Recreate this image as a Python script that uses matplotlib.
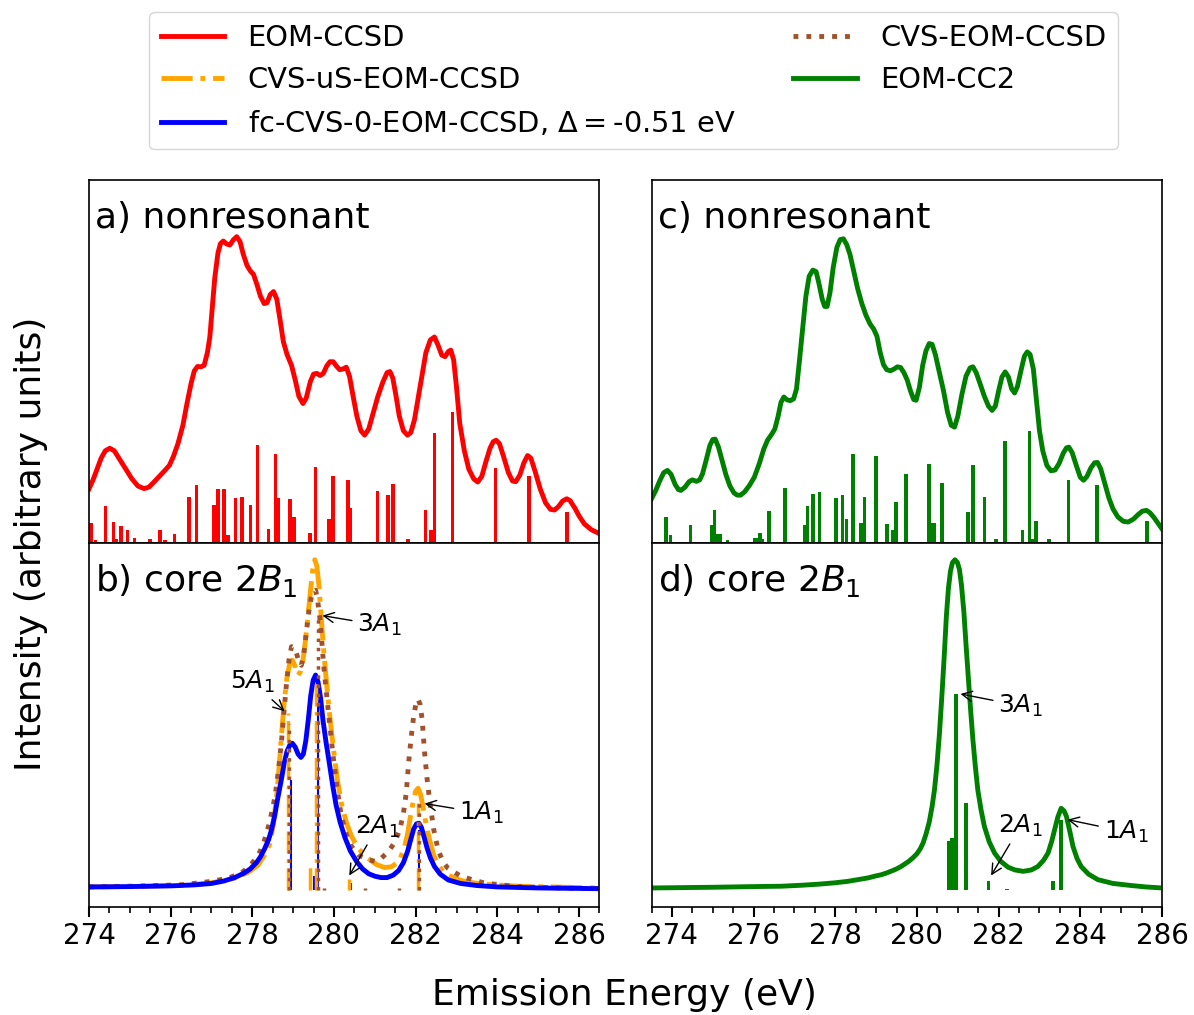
import numpy as np
import matplotlib
matplotlib.use("Agg")
import matplotlib.pyplot as plt
from matplotlib.ticker import MultipleLocator

# ---- a) nonresonant, EOM-CCSD: broadened spectrum and sticks ----
a_curve_E = [274.0, 274.1, 274.2, 274.3, 274.4, 274.51, 274.62, 274.75, 274.9, 275.05,
             275.2, 275.35, 275.47, 275.6, 275.75, 275.86, 275.97, 276.07, 276.18, 276.3,
             276.4, 276.5, 276.58, 276.66, 276.74, 276.82, 276.9, 276.96, 277.02, 277.08,
             277.16, 277.22, 277.29, 277.37, 277.45, 277.54, 277.62, 277.7, 277.78, 277.87,
             277.95, 278.03, 278.12, 278.2, 278.29, 278.36, 278.44, 278.52, 278.6, 278.68,
             278.76, 278.85, 278.96, 279.05, 279.14, 279.24, 279.32, 279.42, 279.5, 279.58,
             279.66, 279.74, 279.82, 279.9, 279.98, 280.06, 280.14, 280.22, 280.3, 280.38,
             280.46, 280.56, 280.66, 280.75, 280.85, 280.95, 281.07, 281.2, 281.3, 281.37,
             281.44, 281.52, 281.6, 281.7, 281.8, 281.88, 281.97, 282.06, 282.15, 282.25,
             282.36, 282.46, 282.55, 282.64, 282.72, 282.8, 282.86, 282.93, 283.0, 283.08,
             283.19, 283.3, 283.42, 283.52, 283.62, 283.72, 283.82, 283.9, 283.97, 284.05,
             284.15, 284.27, 284.37, 284.45, 284.55, 284.65, 284.74, 284.82, 284.92, 285.05,
             285.18, 285.3, 285.4, 285.5, 285.6, 285.7, 285.78, 285.9, 286.0, 286.13,
             286.3, 286.5]
a_curve_I = [0.150, 0.175, 0.205, 0.235, 0.255, 0.262, 0.255, 0.232, 0.205, 0.178,
             0.158, 0.151, 0.155, 0.170, 0.188, 0.201, 0.215, 0.240, 0.275, 0.325,
             0.385, 0.440, 0.475, 0.487, 0.486, 0.490, 0.525, 0.568, 0.650, 0.730,
             0.800, 0.825, 0.832, 0.824, 0.821, 0.836, 0.844, 0.830, 0.795, 0.765,
             0.750, 0.740, 0.710, 0.680, 0.660, 0.662, 0.685, 0.693, 0.672, 0.615,
             0.555, 0.520, 0.490, 0.450, 0.405, 0.385, 0.400, 0.445, 0.466, 0.468,
             0.462, 0.468, 0.488, 0.500, 0.500, 0.488, 0.478, 0.480, 0.485, 0.460,
             0.410, 0.350, 0.310, 0.298, 0.315, 0.355, 0.403, 0.445, 0.470, 0.473,
             0.455, 0.405, 0.350, 0.310, 0.298, 0.305, 0.340, 0.400, 0.460, 0.525,
             0.560, 0.568, 0.545, 0.518, 0.514, 0.528, 0.532, 0.505, 0.430, 0.330,
             0.256, 0.205, 0.178, 0.169, 0.185, 0.225, 0.262, 0.280, 0.284, 0.275,
             0.240, 0.195, 0.172, 0.170, 0.188, 0.222, 0.242, 0.235, 0.200, 0.150,
             0.112, 0.094, 0.092, 0.102, 0.117, 0.123, 0.118, 0.097, 0.076, 0.054,
             0.038, 0.027]
a_stick_E = [274.05, 274.16, 274.41, 274.6, 274.68, 274.78, 274.95, 275.11, 275.49, 275.55,
             275.74, 275.86, 276.1, 276.45, 276.63, 277.06, 277.16, 277.31, 277.41, 277.59,
             277.75, 277.95, 278.13, 278.39, 278.57, 278.63, 278.92, 279.02, 279.41, 279.55,
             279.88, 279.98, 280.34, 280.4, 280.65, 281.06, 281.32, 281.44, 281.81, 282.24,
             282.38, 282.46, 282.9, 283.96, 284.4, 284.77, 285.71]
a_stick_I = [0.055, 0.010, 0.104, 0.059, 0.012, 0.049, 0.036, 0.016, 0.012, 0.004,
             0.036, 0.010, 0.026, 0.128, 0.162, 0.105, 0.151, 0.151, 0.022, 0.125,
             0.127, 0.107, 0.270, 0.040, 0.247, 0.125, 0.121, 0.072, 0.029, 0.210,
             0.066, 0.187, 0.174, 0.098, 0.005, 0.144, 0.132, 0.164, 0.012, 0.091,
             0.036, 0.305, 0.361, 0.208, 0.005, 0.187, 0.086]

# ---- b) core 2B1: three CVS variants ----
b_fc_E = [274.0, 275.0, 276.0, 276.6, 277.0, 277.3, 277.57, 277.8, 277.95, 278.1,
          278.2, 278.3, 278.4, 278.47, 278.55, 278.62, 278.71, 278.78, 278.85, 278.92,
          278.98, 279.05, 279.12, 279.19, 279.25, 279.31, 279.37, 279.43, 279.49, 279.55,
          279.61, 279.67, 279.73, 279.8, 279.88, 279.97, 280.05, 280.15, 280.27, 280.4,
          280.55, 280.7, 280.85, 281.0, 281.15, 281.3, 281.45, 281.58, 281.7, 281.8,
          281.88, 281.95, 282.02, 282.08, 282.14, 282.2, 282.28, 282.36, 282.46, 282.6,
          282.8, 283.1, 283.5, 284.0, 285.0, 286.5]
b_fc_I = [0.008, 0.009, 0.011, 0.014, 0.018, 0.025, 0.035, 0.048, 0.060, 0.078,
          0.095, 0.118, 0.145, 0.173, 0.215, 0.262, 0.317, 0.365, 0.400, 0.418,
          0.423, 0.412, 0.392, 0.382, 0.392, 0.430, 0.490, 0.560, 0.605, 0.620,
          0.600, 0.555, 0.490, 0.430, 0.370, 0.300, 0.245, 0.195, 0.150, 0.112,
          0.082, 0.060, 0.046, 0.039, 0.035, 0.035, 0.042, 0.055, 0.078, 0.110,
          0.145, 0.175, 0.190, 0.192, 0.180, 0.155, 0.120, 0.092, 0.067, 0.045,
          0.028, 0.018, 0.012, 0.008, 0.005, 0.003]
b_us_E = [274.0, 275.0, 276.0, 276.6, 277.0, 277.57, 277.9, 278.14, 278.3, 278.42,
          278.52, 278.62, 278.71, 278.78, 278.85, 278.92, 278.98, 279.05, 279.12, 279.18,
          279.25, 279.31, 279.37, 279.43, 279.48, 279.53, 279.58, 279.63, 279.68, 279.74,
          279.8, 279.88, 279.98, 280.08, 280.18, 280.3, 280.43, 280.6, 280.83, 281.05,
          281.24, 281.4, 281.52, 281.62, 281.72, 281.8, 281.87, 281.94, 282.0, 282.06,
          282.12, 282.18, 282.26, 282.34, 282.44, 282.55, 282.7, 282.87, 283.1, 283.4,
          283.7, 284.5, 286.5]
b_us_I = [0.008, 0.009, 0.012, 0.016, 0.020, 0.033, 0.050, 0.071, 0.100, 0.130,
          0.190, 0.300, 0.440, 0.540, 0.615, 0.655, 0.663, 0.645, 0.620, 0.630,
          0.670, 0.730, 0.800, 0.870, 0.925, 0.953, 0.935, 0.880, 0.800, 0.700,
          0.620, 0.520, 0.413, 0.320, 0.250, 0.195, 0.154, 0.118, 0.091, 0.072,
          0.064, 0.066, 0.075, 0.090, 0.120, 0.160, 0.210, 0.255, 0.285, 0.293,
          0.275, 0.240, 0.185, 0.144, 0.100, 0.071, 0.050, 0.038, 0.027, 0.020,
          0.016, 0.010, 0.005]
b_cvs_E = [274.0, 275.0, 276.27, 277.0, 277.4, 277.73, 277.95, 278.1, 278.2, 278.3,
           278.4, 278.51, 278.58, 278.65, 278.72, 278.78, 278.84, 278.9, 278.96, 279.02,
           279.08, 279.14, 279.2, 279.26, 279.32, 279.38, 279.44, 279.5, 279.55, 279.6,
           279.65, 279.7, 279.75, 279.8, 279.85, 279.92, 279.98, 280.08, 280.18, 280.3,
           280.43, 280.6, 280.83, 281.0, 281.15, 281.33, 281.48, 281.61, 281.7, 281.77,
           281.83, 281.89, 281.95, 282.01, 282.06, 282.11, 282.16, 282.22, 282.28, 282.34,
           282.44, 282.55, 282.67, 282.79, 283.12, 283.69, 284.5, 285.5, 286.5]
b_cvs_I = [0.008, 0.010, 0.014, 0.024, 0.033, 0.048, 0.070, 0.092, 0.113, 0.144,
           0.185, 0.240, 0.290, 0.355, 0.435, 0.520, 0.600, 0.665, 0.702, 0.698,
           0.683, 0.660, 0.648, 0.680, 0.740, 0.800, 0.842, 0.862, 0.865, 0.835,
           0.789, 0.720, 0.645, 0.585, 0.529, 0.450, 0.385, 0.290, 0.212, 0.160,
           0.125, 0.100, 0.087, 0.082, 0.090, 0.110, 0.135, 0.173, 0.220, 0.280,
           0.370, 0.440, 0.500, 0.540, 0.550, 0.535, 0.490, 0.394, 0.320, 0.260,
           0.175, 0.115, 0.080, 0.062, 0.038, 0.019, 0.009, 0.005, 0.003]
b_fc_stick_E = [278.95, 279.5, 279.6, 280.42, 282.08]
b_fc_stick_I = [0.317, 0.040, 0.548, 0.020, 0.173]
b_us_stick_E = [278.87, 279.42, 279.57, 280.37, 282.06]
b_us_stick_I = [0.510, 0.070, 0.600, 0.030, 0.250]
b_cvs_stick_E = [278.9, 279.6, 279.75, 280.75, 281.6, 282.07]
b_cvs_stick_I = [0.480, 0.793, 0.006, 0.006, 0.006, 0.260]

# ---- c) nonresonant, EOM-CC2 ----
c_curve_E = [273.5, 273.6, 273.7, 273.8, 273.89, 273.98, 274.08, 274.16, 274.22, 274.32,
             274.42, 274.5, 274.6, 274.68, 274.75, 274.84, 274.93, 275.0, 275.06, 275.14,
             275.22, 275.32, 275.42, 275.52, 275.6, 275.68, 275.78, 275.9, 276.02, 276.14,
             276.25, 276.34, 276.44, 276.52, 276.6, 276.67, 276.74, 276.82, 276.9, 276.98,
             277.05, 277.12, 277.2, 277.28, 277.36, 277.45, 277.53, 277.6, 277.68, 277.74,
             277.8, 277.87, 277.95, 278.04, 278.12, 278.2, 278.28, 278.36, 278.45, 278.55,
             278.65, 278.75, 278.85, 278.94, 279.02, 279.1, 279.18, 279.26, 279.35, 279.44,
             279.52, 279.6, 279.68, 279.76, 279.84, 279.92, 279.98, 280.06, 280.14, 280.22,
             280.3, 280.37, 280.45, 280.55, 280.65, 280.75, 280.84, 280.92, 281.0, 281.1,
             281.2, 281.3, 281.37, 281.45, 281.55, 281.65, 281.75, 281.84, 281.92, 282.0,
             282.08, 282.16, 282.24, 282.32, 282.39, 282.46, 282.55, 282.63, 282.7, 282.77,
             282.85, 282.92, 283.0, 283.08, 283.18, 283.28, 283.38, 283.48, 283.58, 283.66,
             283.72, 283.8, 283.9, 284.0, 284.08, 284.16, 284.26, 284.35, 284.42, 284.5,
             284.6, 284.7, 284.8, 284.92, 285.05, 285.17, 285.3, 285.42, 285.52, 285.62,
             285.7, 285.8, 285.9, 286.0]
c_curve_I = [0.123, 0.145, 0.172, 0.195, 0.201, 0.190, 0.162, 0.148, 0.146, 0.155,
             0.170, 0.175, 0.171, 0.175, 0.192, 0.230, 0.270, 0.286, 0.287, 0.265,
             0.232, 0.190, 0.158, 0.139, 0.133, 0.133, 0.142, 0.160, 0.183, 0.220,
             0.260, 0.284, 0.300, 0.315, 0.350, 0.388, 0.403, 0.395, 0.393, 0.398,
             0.425, 0.500, 0.590, 0.680, 0.735, 0.752, 0.748, 0.715, 0.672, 0.652,
             0.652, 0.690, 0.760, 0.815, 0.836, 0.838, 0.822, 0.795, 0.750, 0.700,
             0.660, 0.628, 0.604, 0.590, 0.570, 0.525, 0.492, 0.478, 0.475, 0.480,
             0.486, 0.484, 0.470, 0.450, 0.420, 0.396, 0.394, 0.430, 0.490, 0.530,
             0.550, 0.548, 0.520, 0.470, 0.420, 0.360, 0.325, 0.320, 0.350, 0.410,
             0.460, 0.483, 0.486, 0.470, 0.438, 0.405, 0.378, 0.366, 0.378, 0.420,
             0.458, 0.472, 0.458, 0.425, 0.414, 0.432, 0.477, 0.515, 0.527, 0.520,
             0.480, 0.400, 0.310, 0.255, 0.215, 0.200, 0.202, 0.220, 0.248, 0.263,
             0.265, 0.250, 0.215, 0.182, 0.174, 0.184, 0.208, 0.222, 0.223, 0.205,
             0.165, 0.125, 0.095, 0.073, 0.061, 0.059, 0.067, 0.080, 0.089, 0.091,
             0.085, 0.072, 0.056, 0.040]
c_stick_E = [273.85, 273.96, 274.46, 274.97, 275.04, 275.13, 275.18, 275.36, 276.03, 276.1,
             276.16, 276.22, 276.38, 276.77, 277.26, 277.32, 277.45, 277.61, 278.02, 278.18,
             278.28, 278.43, 278.63, 278.71, 279.0, 279.27, 279.41, 279.49, 279.73, 280.29,
             280.34, 280.43, 280.61, 281.25, 281.37, 281.65, 281.94, 282.16, 282.59, 282.76,
             282.84, 282.92, 283.23, 283.71, 284.41, 285.63]
c_stick_I = [0.074, 0.022, 0.050, 0.050, 0.093, 0.027, 0.026, 0.010, 0.015, 0.015,
             0.028, 0.012, 0.089, 0.152, 0.052, 0.104, 0.135, 0.141, 0.125, 0.132,
             0.066, 0.247, 0.055, 0.129, 0.240, 0.054, 0.038, 0.113, 0.190, 0.219,
             0.056, 0.055, 0.167, 0.086, 0.215, 0.129, 0.012, 0.282, 0.036, 0.309,
             0.012, 0.061, 0.012, 0.175, 0.162, 0.063]

# ---- d) core 2B1, EOM-CC2 ----
d_curve_E = [273.5, 275.0, 276.0, 276.67, 277.2, 277.6, 278.0, 278.3, 278.6, 278.8,
             279.0, 279.12, 279.25, 279.4, 279.5, 279.61, 279.7, 279.8, 279.9, 280.0,
             280.08, 280.15, 280.22, 280.3, 280.37, 280.43, 280.49, 280.55, 280.61, 280.67,
             280.72, 280.77, 280.82, 280.87, 280.93, 280.99, 281.04, 281.09, 281.15, 281.2,
             281.25, 281.31, 281.37, 281.43, 281.49, 281.57, 281.65, 281.77, 281.9, 282.05,
             282.23, 282.4, 282.6, 282.8, 282.96, 283.1, 283.21, 283.3, 283.37, 283.45,
             283.53, 283.6, 283.66, 283.74, 283.82, 283.92, 284.02, 284.2, 284.43, 284.8,
             285.25, 285.6, 286.0]
d_curve_I = [0.005, 0.007, 0.009, 0.010, 0.013, 0.016, 0.020, 0.024, 0.030, 0.034,
             0.040, 0.043, 0.048, 0.055, 0.060, 0.067, 0.074, 0.082, 0.092, 0.104,
             0.118, 0.135, 0.160, 0.195, 0.240, 0.290, 0.360, 0.450, 0.560, 0.680,
             0.790, 0.870, 0.920, 0.945, 0.953, 0.945, 0.925, 0.880, 0.800, 0.710,
             0.625, 0.525, 0.433, 0.355, 0.288, 0.230, 0.183, 0.138, 0.106, 0.082,
             0.065, 0.057, 0.053, 0.057, 0.067, 0.085, 0.106, 0.140, 0.173, 0.210,
             0.235, 0.228, 0.212, 0.170, 0.125, 0.090, 0.067, 0.045, 0.029, 0.018,
             0.012, 0.008, 0.005]
d_stick_E = [280.78, 280.84, 280.9, 280.96, 281.2, 281.75, 282.2, 283.33, 283.53]
d_stick_I = [0.142, 0.148, 0.148, 0.565, 0.250, 0.024, 0.003, 0.024, 0.202]

# state labels: (label, arrow tip E, tip I, text E, text I)
b_notes = [(r"$5A_1$", 278.84, 0.51, 278.01, 0.60),
           (r"$3A_1$", 279.65, 0.793, 281.12, 0.764),
           (r"$2A_1$", 280.34, 0.034, 281.07, 0.182),
           (r"$1A_1$", 282.15, 0.25, 283.61, 0.222)]
d_notes = [(r"$3A_1$", 281.0, 0.567, 282.54, 0.531),
           (r"$2A_1$", 281.78, 0.034, 282.54, 0.185),
           (r"$1A_1$", 283.62, 0.204, 285.12, 0.167)]

plt.rcParams['font.family'] = 'DejaVu Sans'
plt.rcParams['mathtext.fontset'] = 'dejavusans'

fig, axs = plt.subplots(2, 2, figsize=(11.94, 10.15), dpi=100)
fig.subplots_adjust(left=0.0745, right=0.9732, bottom=0.1064, top=0.8227,
                    hspace=0, wspace=0.102)
ax_a, ax_c = axs[0]
ax_b, ax_d = axs[1]

LW = 3.5
h_ccsd, = ax_a.plot(a_curve_E, a_curve_I, color='red', lw=LW, label='EOM-CCSD')
ax_a.bar(a_stick_E, a_stick_I, width=0.085, color='red')

h_us, = ax_b.plot(b_us_E, b_us_I, color='orange', lw=LW, ls='-.', label='CVS-uS-EOM-CCSD')
h_cvs, = ax_b.plot(b_cvs_E, b_cvs_I, color='sienna', lw=LW, ls=':', label='CVS-EOM-CCSD')
h_fc, = ax_b.plot(b_fc_E, b_fc_I, color='blue', lw=LW,
                  label=r'fc-CVS-0-EOM-CCSD, $\Delta=$-0.51 eV')
ax_b.vlines(b_fc_stick_E, 0, b_fc_stick_I, color='blue', lw=1.5)
ax_b.vlines(b_us_stick_E, 0, b_us_stick_I, color='orange', lw=2.5, linestyles='-.')
ax_b.vlines(b_cvs_stick_E, 0, b_cvs_stick_I, color='sienna', lw=2.5, linestyles=':')

h_cc2, = ax_c.plot(c_curve_E, c_curve_I, color='green', lw=LW, label='EOM-CC2')
ax_c.bar(c_stick_E, c_stick_I, width=0.085, color='green')

ax_d.plot(d_curve_E, d_curve_I, color='green', lw=LW)
ax_d.bar(d_stick_E, d_stick_I, width=0.085, color='green')

for ax, notes in ((ax_b, b_notes), (ax_d, d_notes)):
    for lab, xe, yi, tx, ty in notes:
        ax.annotate(lab, xy=(xe, yi), xytext=(tx, ty), fontsize=18,
                    ha='center', va='center',
                    arrowprops=dict(arrowstyle='->', color='black', lw=1))

# panel titles
titles = {ax_a: 'a) nonresonant', ax_b: r'b) core $2B_1$',
          ax_c: 'c) nonresonant', ax_d: r'd) core $2B_1$'}
for ax, t in titles.items():
    ax.text(0.012, 0.868, t, transform=ax.transAxes, fontsize=26, va='baseline')

for ax in (ax_a, ax_b):
    ax.set_xlim(274, 286.5)
for ax in (ax_c, ax_d):
    ax.set_xlim(273.5, 286)
for ax in (ax_a, ax_c):
    ax.set_ylim(0, 1)
    ax.tick_params(axis='x', which='both', bottom=False, labelbottom=False)
for ax in (ax_b, ax_d):
    ax.set_ylim(-0.05, 1.0)
    ax.xaxis.set_major_locator(MultipleLocator(2))
    ax.xaxis.set_minor_locator(MultipleLocator(0.5))
    ax.tick_params(axis='x', which='major', labelsize=20, length=7, width=1.5)
    ax.tick_params(axis='x', which='minor', length=4.5, width=1.2)
for ax in axs.flat:
    ax.set_yticks([])
    for sp in ax.spines.values():
        sp.set_linewidth(1.2)

fig.text(0.026, 0.464, 'Intensity (arbitrary units)', rotation=90,
         fontsize=26, ha='center', va='center')
fig.text(0.523, 0.0197, 'Emission Energy (eV)', fontsize=26, ha='center', va='center')

fig.legend(handles=[h_ccsd, h_us, h_fc, h_cvs, h_cc2], ncol=2, fontsize=20.8,
           loc='upper center', bbox_to_anchor=(0.5306, 1.002),
           handlelength=2.2, columnspacing=2.0, labelspacing=0.5)

fig.savefig('out.png', dpi=100)
